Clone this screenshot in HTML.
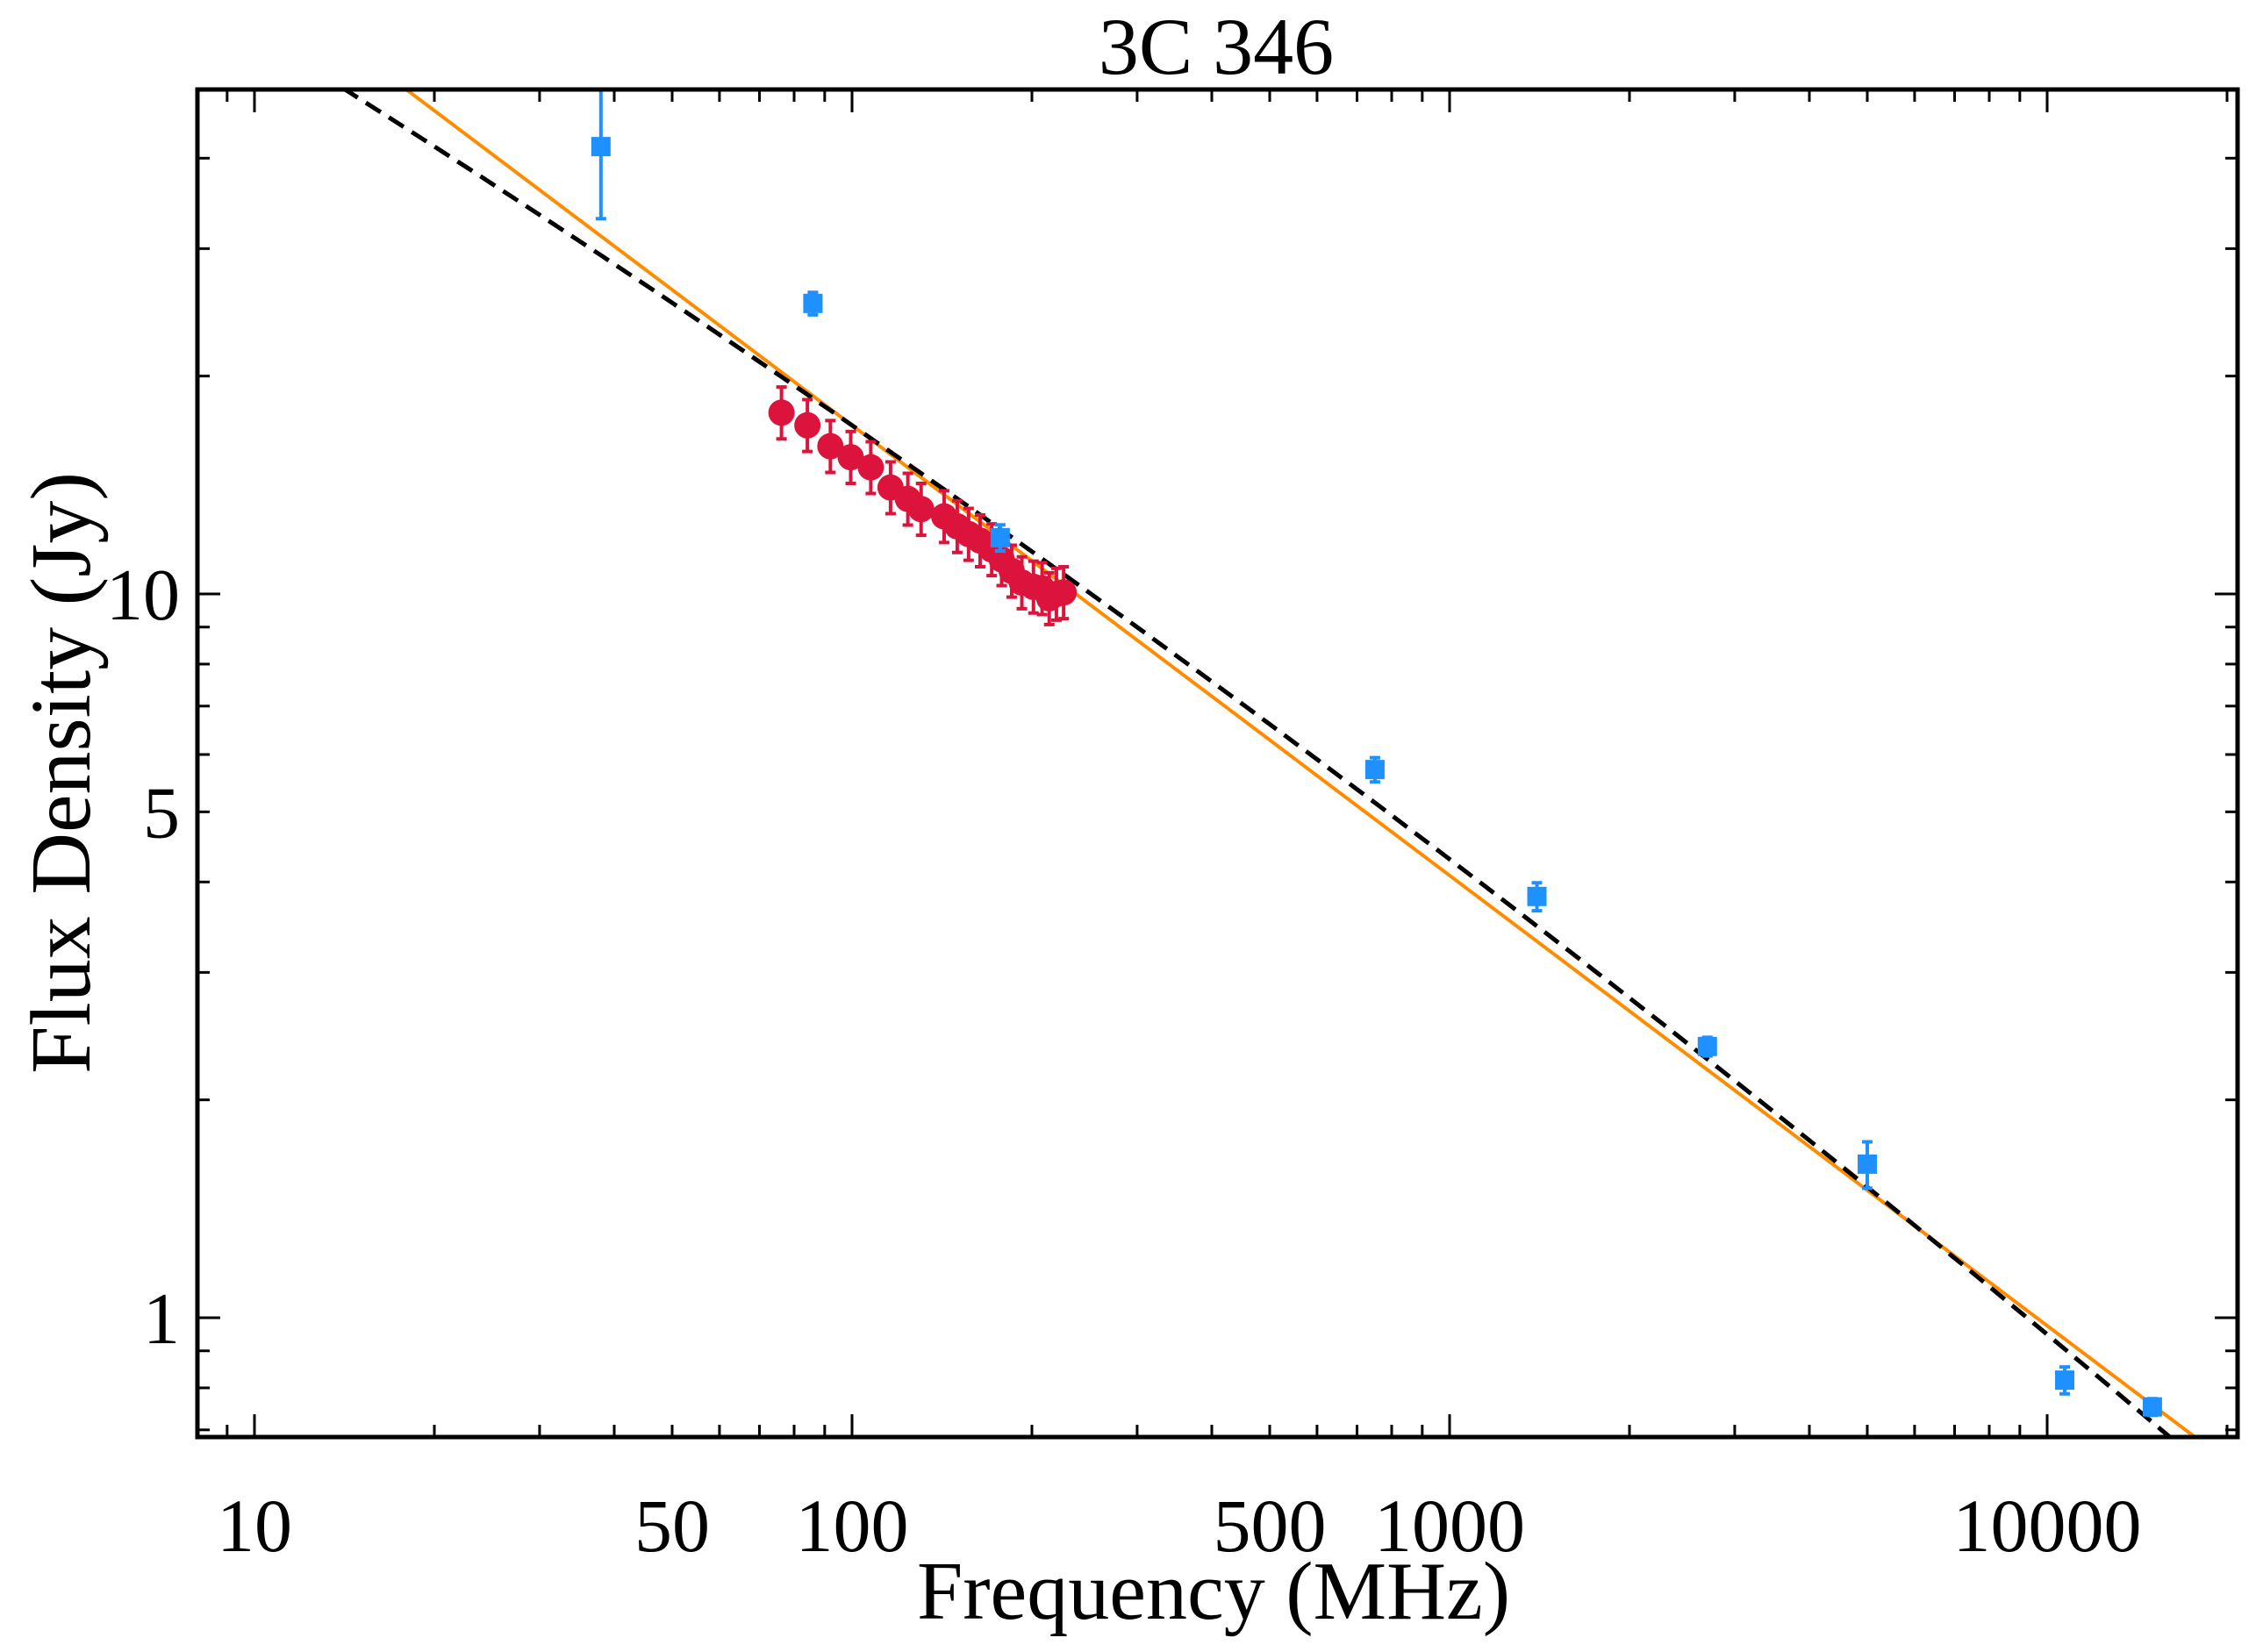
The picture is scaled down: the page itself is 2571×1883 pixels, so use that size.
<!DOCTYPE html>
<html><head><meta charset="utf-8"><style>
body{margin:0;background:#fff}
svg{display:block}
text{font-family:"Liberation Serif",serif;fill:#000}
</style></head><body>
<svg id="chart" width="2571" height="1883" viewBox="0 0 2571 1883" xmlns="http://www.w3.org/2000/svg">
<text x="1386" y="84" font-size="92" text-anchor="middle">3C 346</text>
<text x="1383" y="1845" font-size="94" text-anchor="middle">Frequency (MHz)</text>
<text transform="translate(102,881) rotate(-90)" font-size="98" text-anchor="middle">Flux Density (Jy)</text>
<g id="plot"></g>
</svg>
<script>
const blueFreq=[38,86,177,750,1400,2700,5000,10700,15000];
const blueFlux=[41.5,25.2,11.96,5.72,3.82,2.37,1.63,0.82,0.753];
const blueErrLo=[8.5,0.9,0.5,0.22,0.17,0.07,0.12,0.035,0.02];
const blueErrHi=[12,0.9,0.5,0.22,0.17,0.07,0.12,0.035,0.02];
const redFreq=[76.2,84.2,92,99.5,107.5,116,124,130.5,142.6,150,156.7,163.8,171.3,178,185,192.4,201.2,208,213.8,219.8,226];
const redFlux=[17.8,17.1,16.0,15.45,14.96,14.03,13.53,13.1,12.8,12.4,12.1,11.85,11.52,11.16,10.76,10.37,10.23,10.18,9.86,10.0,10.05];
const orangeAmp100=17.1, orangeAlpha=-0.622;
// curved power law: log S = a + b log(nu) + c log(nu)^2
const blackCoefA=2.261, blackCoefB=-0.457, blackCoefC=-0.0285;
const xTickVals=[10,50,100,500,1000,10000];
const xTickLabels=["10","50","100","500","1000","10000"];
const yTickVals=[1,5,10];
const yTickLabels=["1","5","10"];

const L=225,R=2550,T=102,B=1638;
const X0=290,DX=681,Y1=1502,DY=825;
const xs=v=>X0+(Math.log10(v)-1)*DX;
const ys=v=>Y1-Math.log10(v)*DY;
const NS="http://www.w3.org/2000/svg";
const g=document.getElementById('plot');
function mk(tag,attrs,parent){const e=document.createElementNS(NS,tag);for(const k in attrs)e.setAttribute(k,attrs[k]);(parent||g).appendChild(e);return e;}

const clip=mk('clipPath',{id:'clp'});
mk('rect',{x:L,y:T,width:R-L,height:B-T},clip);
const lines=mk('g',{'clip-path':'url(#clp)'});



const o1=5,o2=30000;
const orange=mk('line',{x1:xs(o1),y1:ys(orangeAmp100*Math.pow(o1/100,orangeAlpha)),x2:xs(o2),y2:ys(orangeAmp100*Math.pow(o2/100,orangeAlpha)),stroke:'#ff8c00','stroke-width':4},lines);



let d='';
for(let lx=0.8;lx<=4.5;lx+=0.02){
  const ly=blackCoefA+blackCoefB*lx+blackCoefC*lx*lx;
  d+=(d?'L':'M')+(X0+(lx-1)*DX).toFixed(1)+','+(Y1-ly*DY).toFixed(1);
}
const black=mk('path',{d:d,stroke:'#000','stroke-width':5,fill:'none','stroke-dasharray':'20 11'},lines);



redFreq.forEach((f,i)=>{
  const x=xs(f),v=redFlux[i];
  const y1=ys(v*1.085),y2=ys(v*0.92);
  const eb=mk('path',{d:`M${x},${y1}V${y2}M${x-6},${y1}h12M${x-6},${y2}h12`,stroke:'#dc143c','stroke-width':4,fill:'none'},lines);
  
  
});
redFreq.forEach((f,i)=>{
  const c=mk('circle',{cx:xs(f),cy:ys(redFlux[i]),r:15,fill:'#dc143c'},lines);
  
  
});
blueFreq.forEach((f,i)=>{
  const x=xs(f),v=blueFlux[i];
  const y1=ys(v+blueErrHi[i]),y2=ys(v-blueErrLo[i]);
  const eb=mk('path',{d:`M${x},${y1}V${y2}M${x-6},${y1}h12M${x-6},${y2}h12`,stroke:'#1e90ff','stroke-width':4,fill:'none'},lines);
  
  
  const s=mk('rect',{x:x-11,y:ys(v)-11,width:22,height:22,fill:'#1e90ff'},lines);
  
  
});

const ticks=mk('g',{stroke:'#000','stroke-width':3});


for(let dd=1;dd<=10000;dd*=10){for(let m=1;m<10;m++){const v=dd*m;const x=xs(v);if(x<L||x>R)continue;const len=m===1?26:14;
  mk('line',{x1:x,y1:B,x2:x,y2:B-len},ticks);mk('line',{x1:x,y1:T,x2:x,y2:T+len},ticks);}}
for(let dd=0.1;dd<=100;dd*=10){for(let m=1;m<10;m++){const v=dd*m;const y=ys(v);if(y<T||y>B)continue;const major=(Math.abs(v-1)<1e-6||Math.abs(v-10)<1e-6);const len=major?26:14;
  mk('line',{x1:L,y1:y,x2:L+len,y2:y},ticks);mk('line',{x1:R,y1:y,x2:R-len,y2:y},ticks);}}
const frame=mk('rect',{x:L,y:T,width:R-L,height:B-T,fill:'none',stroke:'#000','stroke-width':5});



xTickVals.forEach((v,i)=>{
  const t=mk('text',{x:xs(v),y:1768,'font-size':86,'text-anchor':'middle'});
  t.textContent=xTickLabels[i];
  
  
});
yTickVals.forEach((v,i)=>{
  const t=mk('text',{x:205,y:ys(v)+29,'font-size':84,'text-anchor':'end'});
  t.textContent=yTickLabels[i];
  
  
});
</script>
</body></html>
